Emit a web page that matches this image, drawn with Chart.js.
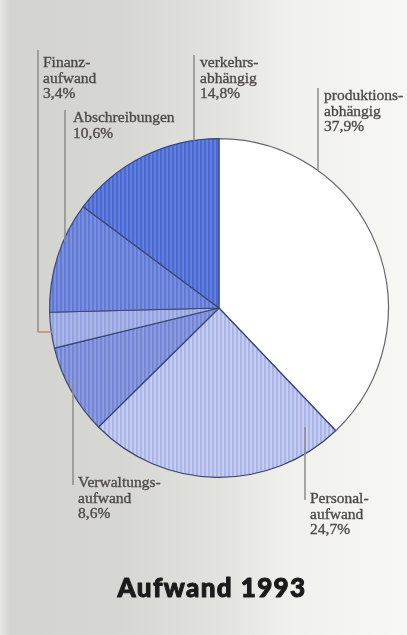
<!DOCTYPE html>
<html>
<head>
<meta charset="utf-8">
<script src="https://cdn.jsdelivr.net/npm/chart.js@4/dist/chart.umd.min.js"></script>
<style>
  html, body { margin: 0; padding: 0; }
  body {
    width: 407px; height: 635px; overflow: hidden;
    background: linear-gradient(to right, #e6e6e2 0px, #d3d3cf 10px, #d6d6d2 120px, #e2e2de 220px, #f0f0ec 290px, #f7f7f4 407px);
  }
  #chart { position: absolute; left: 0; top: 0; }
</style>
</head>
<body>
<canvas id="chart" width="407" height="635"></canvas>
<script>
// Aufwand 1993, Anteile in Prozent (im Uhrzeigersinn ab 12 Uhr)
const categories = [
    ['produktions-', 'abhängig'],
    ['Personal-', 'aufwand'],
    ['Verwaltungs-', 'aufwand'],
    ['Finanz-', 'aufwand'],
    ['Abschreibungen'],
    ['verkehrs-', 'abhängig']
];
const shares = [37.9, 24.7, 8.6, 3.4, 10.6, 14.8];
const chartTitle = 'Aufwand 1993';

// base colour + lighter stripe colour for each slice
const palette = [
    ['#ffffff', '#ffffff'],
    ['#a9b5e9', '#c6cdf1'],
    ['#7385d7', '#8d9ce0'],
    ['#93a3e1', '#aab7e8'],
    ['#6079d6', '#7a8fde'],
    ['#4a68d4', '#6280dc']
];

// label anchors and leader lines (text top, line x, line start, how far it runs into the pie)
const labelLayout = [
    { tx: 324, ty: 90,  lx: 318, ly: 88,  inset: 0 },
    { tx: 310, ty: 493, lx: 305, ly: 500, inset: 27 },
    { tx: 78,  ty: 477, lx: 73,  ly: 485, inset: 13 },
    { tx: 43,  ty: 57,  lx: 38,  ly: 50,  elbowY: 332 },
    { tx: 73,  ty: 112, lx: 65,  ly: 110, inset: 4 },
    { tx: 200, ty: 57,  lx: 194, ly: 55,  inset: 0 }
];

function stripes(base, alt) {
    const c = document.createElement('canvas');
    c.width = 4; c.height = 4;
    const g = c.getContext('2d');
    g.fillStyle = base;
    g.fillRect(0, 0, 4, 4);
    g.fillStyle = alt;
    g.fillRect(2, 0, 2, 4);
    return g.createPattern(c, 'repeat');
}

function pct(v) {
    return v.toFixed(1).replace('.', ',') + '%';
}

const labelPlugin = {
    id: 'leaderLabels',
    afterDraw(chart) {
        const ctx = chart.ctx;
        const arcs = chart.getDatasetMeta(0).data;
        const cx = arcs[0].x, cy = arcs[0].y, r = arcs[0].outerRadius;

        ctx.save();
        labelLayout.forEach((p, i) => {
            ctx.strokeStyle = '#8c8c8a';
            ctx.lineWidth = 1.5;
            ctx.beginPath();
            ctx.moveTo(p.lx, p.ly);
            if (p.elbowY !== undefined) {
                ctx.lineTo(p.lx, p.elbowY);
                ctx.stroke();
                const ex = cx - Math.sqrt(r * r - (p.elbowY - cy) ** 2);
                ctx.strokeStyle = '#c98a66';
                ctx.beginPath();
                ctx.moveTo(p.lx, p.elbowY);
                ctx.lineTo(ex + 1, p.elbowY);
            } else {
                const h = Math.sqrt(Math.max(r * r - (p.lx - cx) ** 2, 0));
                const ey = p.ly < cy ? cy - h + p.inset : cy + h - p.inset;
                ctx.lineTo(p.lx, ey);
            }
            ctx.stroke();

            // label text, slightly stroked to look like the printed serif
            ctx.fillStyle = '#4e4a46';
            ctx.strokeStyle = '#4e4a46';
            ctx.lineWidth = 0.35;
            ctx.font = '15.5px "Liberation Serif", serif';
            ctx.textAlign = 'left';
            ctx.textBaseline = 'alphabetic';
            const lines = categories[i].concat([pct(shares[i])]);
            lines.forEach((t, k) => {
                const y = p.ty + 10 + k * 15.5;
                ctx.fillText(t, p.tx, y);
                ctx.strokeText(t, p.tx, y);
            });
        });

        // heavy title under the pie
        ctx.fillStyle = '#1b1b1b';
        ctx.strokeStyle = '#1b1b1b';
        ctx.lineWidth = 1;
        ctx.lineJoin = 'round';
        ctx.font = '900 26px Lato, "DejaVu Sans", sans-serif';
        ctx.letterSpacing = '1.4px';
        ctx.textAlign = 'center';
        ctx.fillText(chartTitle, 212, 597);
        ctx.strokeText(chartTitle, 212, 597);
        ctx.restore();
    }
};

new Chart(document.getElementById('chart'), {
    type: 'pie',
    data: {
        labels: categories.map(c => c.join('')),
        datasets: [{
            data: shares,
            backgroundColor: palette.map(p => stripes(p[0], p[1])),
            borderColor: ['#66666e', '#3b4775', '#3b4775', '#3b4775', '#3b4775', '#3b4775'],
            borderWidth: 1.2
        }]
    },
    options: {
        responsive: false,
        devicePixelRatio: 1,
        animation: false,
        layout: { padding: { left: 49, right: 18, top: 138, bottom: 157 } },
        plugins: {
            legend: { display: false },
            tooltip: { enabled: false }
        }
    },
    plugins: [labelPlugin]
});
</script>
</body>
</html>
